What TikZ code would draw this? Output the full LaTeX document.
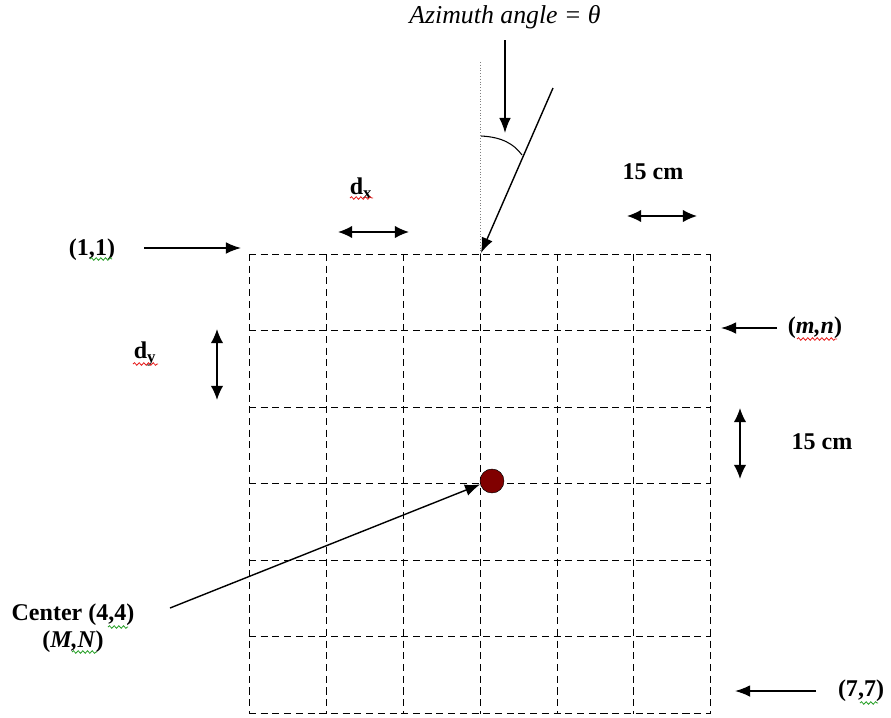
\documentclass[tikz,border=0pt]{standalone}
\usepackage{fontspec}
\setmainfont{Liberation Serif}
\usetikzlibrary{arrows.meta, positioning, calc, decorations.pathmorphing}

\definecolor{dotred}{RGB}{128,0,0}
\definecolor{squigred}{RGB}{230,30,30}
\definecolor{squiggreen}{RGB}{40,160,40}

\tikzset{
  lbl/.style={font=\fontsize{20.5}{23}\selectfont\bfseries, inner sep=0pt},
  ilbl/.style={font=\fontsize{22}{24}\selectfont\itshape, inner sep=0pt},
  pointer/.style={line width=1.2pt, -{Latex[length=13pt,width=10pt]}},
  dimarrow/.style={line width=1.2pt, {Latex[length=12pt,width=10.5pt]}-{Latex[length=12pt,width=10.5pt]}},
  gridline/.style={line width=0.86pt, dash pattern=on 6pt off 4pt},
  squiggle/.style={line width=0.7pt, decorate, decoration={snake, amplitude=1.1pt, segment length=4pt}},
}

\begin{document}
\begin{tikzpicture}[x=0.03cm, y=-0.03cm]
  \useasboundingbox (0,0) rectangle (891,717);

  % Grid of 6 x 6 cells
  \foreach \gx in {249.5,326.5,403.5,480.5,557.5,633.5,710.5}
    \draw[gridline] (\gx,254) -- (\gx,714);
  \foreach \gy in {254.5,330.5,407.5,483.5,560.5,636.5,713.5}
    \draw[gridline] (249,\gy) -- (711,\gy);

  % Centre point
  \node[circle, draw, fill=dotred, minimum size=0.72cm, inner sep=0pt] (dot) at (492,481) {};

  % Azimuth
  \node[ilbl] (azimuth) at (505,17) {Azimuth angle = θ};
  \coordinate (north top) at (480.5,62);
  \coordinate (north foot) at (480.5,254);
  \draw[dotted, gray] (north top) -- (north foot);
  \coordinate (ray top) at (553,88);
  \coordinate (ray tip) at (481,253);
  \draw[pointer] (ray top) -- (ray tip);
  \coordinate (angle from) at (505,40);
  \coordinate (angle tip) at (505,133);
  \draw[pointer] (angle from) -- (angle tip);
  \draw[line width=0.9pt] (481,136) .. controls (502,137) and (514,144) .. (522,155);

  % Cell widths
  \node[lbl] (dx) at (361,188) {d\textsubscript{x}};
  \coordinate (dx left) at (338,232);
  \coordinate (dx right) at (409,232);
  \draw[dimarrow] (dx left) -- (dx right);

  \node[lbl] (top cm) at (653,172) {15 cm};
  \coordinate (cm left) at (627,216);
  \coordinate (cm right) at (697,216);
  \draw[dimarrow] (cm left) -- (cm right);

  \node[lbl] (dy) at (145,354) {d\textsubscript{y}};
  \coordinate (dy top) at (217,329);
  \coordinate (dy bottom) at (217,400);
  \draw[dimarrow] (dy top) -- (dy bottom);

  \node[lbl] (side cm) at (822,442) {15 cm};
  \coordinate (cm top) at (740,408);
  \coordinate (cm bottom) at (740,479);
  \draw[dimarrow] (cm top) -- (cm bottom);

  % Corner cells
  \node[lbl] (first) at (92,250) {(1,1)};
  \coordinate (first from) at (144,248);
  \coordinate (first tip) at (241,248);
  \draw[pointer] (first from) -- (first tip);

  \node[lbl] (mn) at (815,328) {(\textit{m,n})};
  \coordinate (mn from) at (777,328);
  \coordinate (mn tip) at (721,328);
  \draw[pointer] (mn from) -- (mn tip);

  \node[lbl] (last) at (861,691) {(7,7)};
  \coordinate (last from) at (816,691);
  \coordinate (last tip) at (735,691);
  \draw[pointer] (last from) -- (last tip);

  % Centre label
  \node[lbl, align=center] (center) at (73,628) {Center (4,4)\\(\textit{M,N})};
  \coordinate (center from) at (170,608);
  \draw[pointer] (center from) -- (dot.196);

  % Spell-check marks
  \draw[squiggle, squigred] (350,198) -- (373,198);
  \draw[squiggle, squigred] (133,364) -- (158,364);
  \draw[squiggle, squigred] (797,339) -- (837,339);
  \draw[squiggle, squiggreen] (90,259) -- (112,259);
  \draw[squiggle, squiggreen] (108,627) -- (128,627);
  \draw[squiggle, squiggreen] (72,652) -- (97,652);
  \draw[squiggle, squiggreen] (860,703) -- (878,703);
\end{tikzpicture}
\end{document}
